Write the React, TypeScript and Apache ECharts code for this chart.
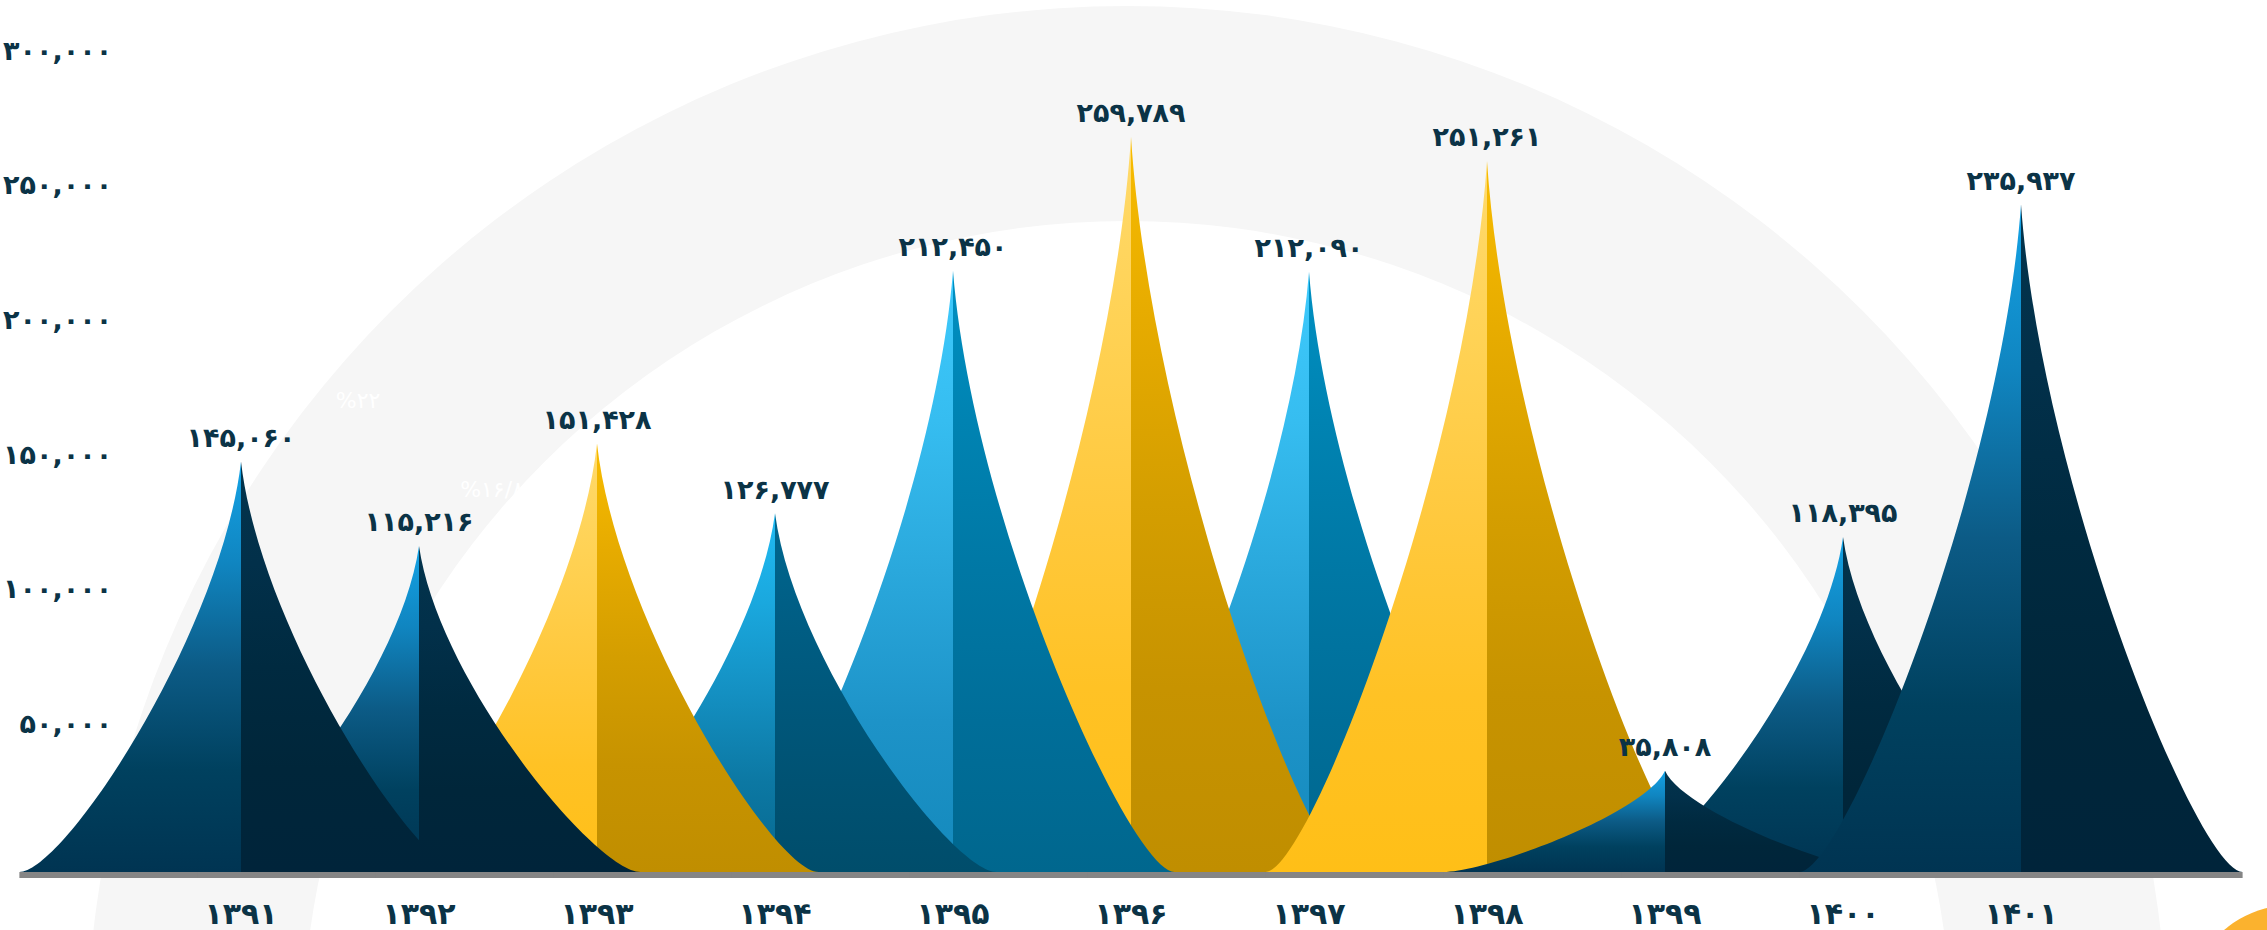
import React, { useEffect, useRef } from "react";
import * as echarts from "echarts";

// ---- data ----
const years = ["۱۳۹۱", "۱۳۹۲", "۱۳۹۳", "۱۳۹۴", "۱۳۹۵", "۱۳۹۶", "۱۳۹۷", "۱۳۹۸", "۱۳۹۹", "۱۴۰۰", "۱۴۰۱"];
const values = [145060, 115216, 151428, 126777, 212450, 259789, 212090, 251261, 35808, 118395, 235937];
const tones = ["navy", "navy", "gold", "sky", "aqua", "gold", "aqua", "gold", "navy", "navy", "navy"];
// stacking rank of each peak (higher = drawn on top)
const stackRank = [6, 5, 4, 3, 2, 1, 0, 7, 9, 8, 10];
const yMin = 0;
const yMax = 300000;
const yStep = 50000;
const notes = ["%۲۲", "%۱۶/۸"];

const FONT = '"DejaVu Sans", "Noto Sans", sans-serif';
const INK = "#0b3346";

const palettes: Record<string, { left: string[]; right: string[] }> = {
  navy: { left: ["#14a3e6", "#1085c0", "#0c5b86", "#00415f", "#003452"], right: ["#03344c", "#02304a", "#002a40", "#00263a", "#00243a"] },
  sky: { left: ["#20bbf3", "#1aa8de", "#1490c2", "#0c78a3", "#06688f"], right: ["#00678f", "#005f86", "#00587c", "#005273", "#004d6b"] },
  aqua: { left: ["#3ecafd", "#36bdf0", "#2aa8dc", "#1d93c8", "#1489bc"], right: ["#0090c2", "#0083b2", "#0078a5", "#006e99", "#00678e"] },
  gold: { left: ["#ffda6c", "#ffd255", "#ffc93e", "#ffc225", "#ffbf17"], right: ["#f8bc00", "#e6ab00", "#d49e00", "#c79300", "#c08e00"] },
};

const toFa = (n: number) =>
  Math.round(n)
    .toLocaleString("en-US")
    .replace(/\d/g, (d) => "۰۱۲۳۴۵۶۷۸۹"[Number(d)]);

function grad(cols: string[]) {
  return new echarts.graphic.LinearGradient(
    0,
    0,
    0,
    1,
    cols.map((c, i) => ({ offset: i / (cols.length - 1), color: c }))
  );
}

export default function App() {
  const ref = useRef<HTMLDivElement>(null);

  useEffect(() => {
    if (!ref.current) return;
    const chart = echarts.init(ref.current, null, { renderer: "svg" });
    const seriesData = values.map((v, i) => [i, v]);

    const geom = (api: any) => {
      const idx = api.value(0);
      const val = api.value(1);
      const top = api.coord([idx, val]);
      const base = api.coord([idx, 0]);
      const band = api.size([1, 0])[0];
      const hw = band * 1.245;
      return { idx, val, cx: top[0], yt: top[1], yb: base[1], hw };
    };

    const halfPath = (cx: number, yt: number, yb: number, hw: number, dir: number) => {
      const h = yb - yt;
      return (
        `M${cx},${yt} ` +
        `C${cx + dir * 0.09 * hw},${yt + 0.42 * h} ${cx + dir * 0.8 * hw},${yb} ${cx + dir * hw},${yb} ` +
        `L${cx},${yb} Z`
      );
    };

    const option: any = {
      animation: false,
      backgroundColor: "#ffffff",
      textStyle: { fontFamily: FONT },
      graphic: [
        {
          type: "ring",
          shape: { cx: 1127, cy: 1046, r: 1040, r0: 825 },
          style: { fill: "#f6f6f6" },
          silent: true,
        },
        {
          type: "circle",
          shape: { cx: 2292, cy: 1010, r: 105 },
          style: { fill: "#fbb22e" },
          silent: true,
        },
        {
          type: "text",
          x: 358,
          y: 400,
          style: { text: notes[0], fill: "#ffffff", font: `22px ${FONT}`, align: "center", verticalAlign: "middle" },
          silent: true,
        },
        {
          type: "text",
          x: 492,
          y: 489,
          style: { text: notes[1], fill: "#ffffff", font: `22px ${FONT}`, align: "center", verticalAlign: "middle" },
          silent: true,
        },
      ],
      grid: [
        { left: 152, right: 157, top: 23, bottom: 58 },
        { left: 120, right: 157, top: 50, bottom: 72 },
      ],
      xAxis: [
        {
          type: "category",
          gridIndex: 0,
          data: years,
          axisLine: { show: false },
          axisTick: { show: false },
          axisLabel: { color: INK, fontSize: 30, fontWeight: "bold", fontFamily: FONT, margin: 26 },
        },
        { type: "category", gridIndex: 1, data: years, show: false },
      ],
      yAxis: [
        { type: "value", gridIndex: 0, min: yMin, max: yMax, show: false },
        {
          type: "value",
          gridIndex: 1,
          min: yMin,
          max: yMax,
          interval: yStep,
          axisLine: { show: false },
          axisTick: { show: false },
          splitLine: { show: false },
          axisLabel: {
            color: INK,
            fontSize: 27,
            fontWeight: "bold",
            fontFamily: FONT,
            margin: 14,
            formatter: (v: number) => (v === 0 ? "" : toFa(v)),
          },
        },
      ],
      series: [
        {
          type: "custom",
          name: "base",
          xAxisIndex: 0,
          yAxisIndex: 0,
          z: 1,
          data: seriesData,
          encode: { x: 0, y: 1 },
          renderItem: (_p: any, api: any) => {
            const g = geom(api);
            return {
              type: "rect",
              shape: { x: g.cx - g.hw, y: g.yb, width: g.hw * 2, height: 6 },
              style: { fill: "#858585" },
            };
          },
        },
        {
          type: "custom",
          name: "peaks",
          xAxisIndex: 0,
          yAxisIndex: 0,
          z: 3,
          data: seriesData,
          encode: { x: 0, y: 1 },
          renderItem: (_p: any, api: any) => {
            const g = geom(api);
            const { cx, yt, yb, hw } = g;
            const pal = palettes[tones[g.idx]];
            const rank = stackRank[g.idx];
            return {
              type: "group",
              children: [
                { type: "path", z2: rank * 2, shape: { pathData: halfPath(cx, yt, yb, hw, -1) }, style: { fill: grad(pal.left) } },
                { type: "path", z2: rank * 2 + 1, shape: { pathData: halfPath(cx, yt, yb, hw, 1) }, style: { fill: grad(pal.right) } },
                {
                  type: "text",
                  z2: 100,
                  x: cx,
                  y: yt - 24,
                  style: {
                    text: toFa(g.val),
                    fill: INK,
                    font: `bold 27px ${FONT}`,
                    align: "center",
                    verticalAlign: "middle",
                  },
                },
              ],
            };
          },
        },
      ],
    };

    chart.setOption(option);
    return () => chart.dispose();
  }, []);

  return (
    <div
      ref={ref}
      style={{ position: "fixed", left: 0, top: 0, width: "2267px", height: "930px", background: "#fff" }}
    />
  );
}
